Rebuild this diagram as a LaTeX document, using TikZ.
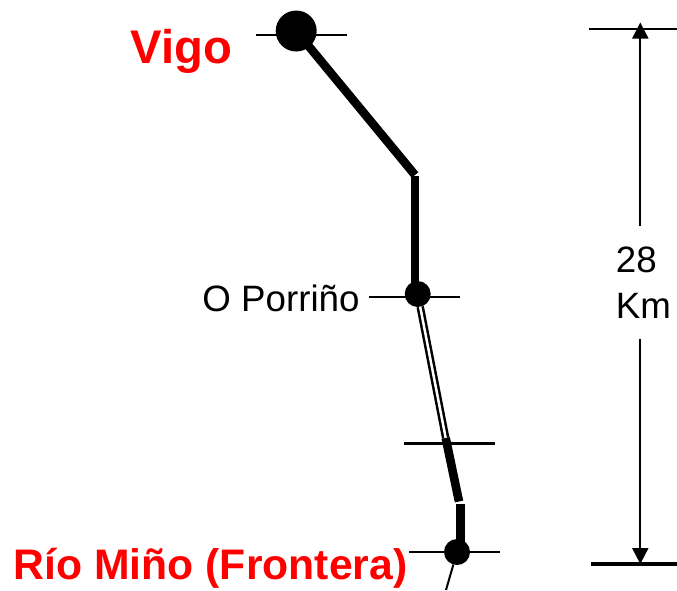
\documentclass[tikz,border=0pt]{standalone}
\usepackage{fontspec}
\setmainfont{Liberation Sans}
\usetikzlibrary{arrows.meta}

\begin{document}
\begin{tikzpicture}[
            x=1pt, y=-1pt,
            % Style for the stations on the line
            station/.style={circle, fill=black, inner sep=0, outer sep=0, minimum size=#1},
            % Styles for the stretches of the line
            track/.style={line width=8.6pt},
            doubletrack/.style={line width=2.5pt, double=white, double distance=2.5pt},
            % Style for the short marks across the line
            tick/.style={line width=2.4pt},
            % Style for the red place names
            place/.style={text=red, anchor=base, inner sep=0, font=\bfseries\fontsize{#1}{#1}\selectfont},
            % Style for the distance arrow
            dist/.style={line width=2pt, -{Triangle[length=16pt, width=16pt]}}
        ]
        \useasboundingbox (0,0) rectangle (677,590);

        % --- Stations and names ---
        \node[station=41pt] (vigo) at (296.2, 31) {};
        \node[station=26pt] (porrino) at (417.7, 294) {};
        \node[station=26pt] (mino) at (457, 552) {};
        \node[place=47.2] (vigolabel) at (181.5, 63.5) {Vigo};
        \node[anchor=base, inner sep=0, font=\fontsize{36.7}{36.7}\selectfont] (porrinolabel) at (281, 311) {O Porriño};
        \node[place=42.7] (minolabel) at (210.5, 579.5) {Río Miño (Frontera)};

        % --- Points where the line bends or changes ---
        \coordinate (bendtop) at (415, 175);
        \coordinate (bendstart) at (415, 176);
        \coordinate (doubleend) at (445.7, 438);
        \coordinate (thickend) at (459, 501.5);
        \coordinate (lowstart) at (460.3, 504);
        \coordinate (tailend) at (446, 590);

        % --- The line itself ---
        \draw[track] (vigo.center) -- (bendtop);
        \draw[track] (bendstart) -- (bendstart |- porrino.center);
        \draw[doubletrack] (porrino) -- (doubleend);
        \draw[track] (doubleend) -- (thickend);
        \draw[track] (lowstart) -- (lowstart |- mino.center);
        \draw[line width=2pt] (mino) -- (tailend);

        % --- Marks across the line ---
        \foreach \xa/\xb/\ya in {256/347/34.7, 369/460/296.7, 404/495/443.3, 409/500/552} {
            \draw[tick] (\xa, \ya) -- (\xb, \ya);
        }

        % --- Distance on the right ---
        \coordinate (disttop) at (640.3, 22.5);
        \coordinate (distbottom) at (640.3, 564);
        \node[align=left, inner sep=0, minimum height=113pt, font=\fontsize{36.7}{46}\selectfont] (distlabel) at (643.5, 282.5) {28\\Km};
        \draw[dist] (disttop |- distlabel.north) -- (disttop);
        \draw[dist] (distbottom |- distlabel.south) -- (distbottom);
        \draw[line width=2.8pt] (589, 29) -- (677, 29);
        \draw[line width=3.2pt] (591, 564) -- (677, 564);

        \end{tikzpicture}
\end{document}
